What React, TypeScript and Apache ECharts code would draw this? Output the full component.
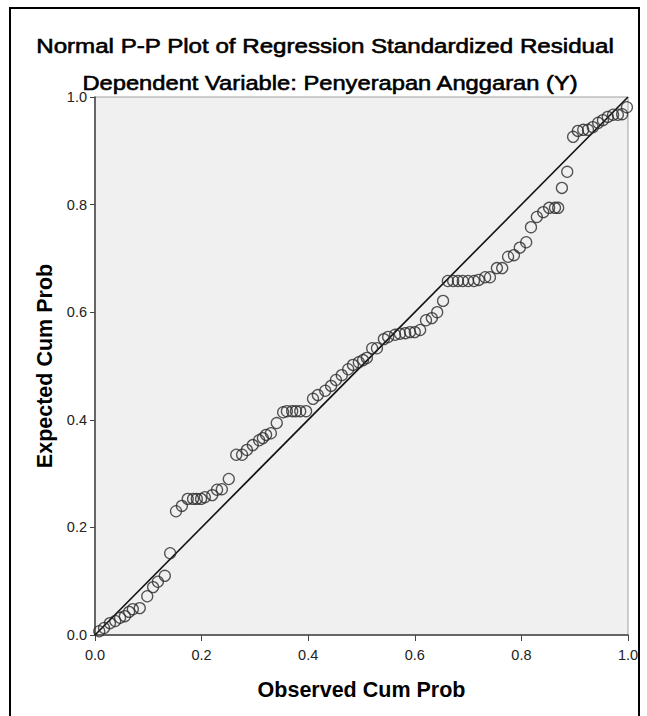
import React, { useEffect, useRef } from "react";
import * as echarts from "echarts";

const titleMain = "Normal P-P Plot of Regression Standardized Residual";
const titleSub = "Dependent Variable: Penyerapan Anggaran (Y)";
const xAxisName = "Observed Cum Prob";
const yAxisName = "Expected Cum Prob";

const observed = [
  0.008, 0.017, 0.028, 0.038, 0.047, 0.056, 0.064, 0.071, 0.084, 0.098,
  0.109, 0.118, 0.131, 0.141, 0.152, 0.163, 0.174, 0.184, 0.191, 0.199,
  0.206, 0.22, 0.229, 0.238, 0.251, 0.265, 0.276, 0.285, 0.296, 0.308,
  0.315, 0.321, 0.33, 0.341, 0.353, 0.36, 0.37, 0.377, 0.385, 0.396,
  0.409, 0.418, 0.432, 0.443, 0.452, 0.463, 0.475, 0.484, 0.495, 0.503,
  0.51, 0.52, 0.529, 0.542, 0.55, 0.563, 0.572, 0.582, 0.591, 0.6,
  0.61, 0.621, 0.632, 0.642, 0.653, 0.662, 0.672, 0.681, 0.69, 0.7,
  0.711, 0.72, 0.732, 0.741, 0.754, 0.764, 0.775, 0.786, 0.797, 0.809,
  0.818, 0.829, 0.841, 0.852, 0.863, 0.869, 0.876, 0.886, 0.897, 0.906,
  0.916, 0.925, 0.934, 0.944, 0.953, 0.962, 0.972, 0.981, 0.989, 0.998,
];

const expected = [
  0.007, 0.013, 0.022, 0.026, 0.032, 0.035, 0.043, 0.048, 0.05, 0.072,
  0.089, 0.099, 0.11, 0.152, 0.23, 0.24, 0.253, 0.253, 0.253, 0.253,
  0.256, 0.26, 0.27, 0.271, 0.29, 0.335, 0.335, 0.344, 0.353, 0.362,
  0.366, 0.372, 0.375, 0.394, 0.414, 0.416, 0.416, 0.416, 0.416, 0.416,
  0.439, 0.446, 0.454, 0.463, 0.474, 0.483, 0.494, 0.502, 0.507, 0.511,
  0.515, 0.533, 0.533, 0.55, 0.554, 0.558, 0.56, 0.561, 0.563, 0.563,
  0.567, 0.585, 0.589, 0.6, 0.621, 0.658, 0.658, 0.658, 0.658, 0.658,
  0.658, 0.66, 0.665, 0.665, 0.682, 0.682, 0.703, 0.706, 0.72, 0.73,
  0.758, 0.777, 0.786, 0.794, 0.794, 0.794, 0.831, 0.861, 0.926, 0.937,
  0.939, 0.939, 0.944, 0.952, 0.957, 0.963, 0.967, 0.967, 0.968, 0.981,
];

const refLine = [
  [0, 0],
  [1, 1],
];

export default function App() {
  const ref = useRef<HTMLDivElement>(null);
  useEffect(() => {
    document.body.style.margin = "0";
    if (!ref.current) return;
    const chart = echarts.init(ref.current, null, { renderer: "svg" });
    const font = "'Liberation Sans', Arial, sans-serif";
    const points = observed.map((o, i) => [o, expected[i]]);
    chart.setOption({
      animation: false,
      backgroundColor: "#ffffff",
      graphic: [
        {
          type: "rect",
          shape: { x: 10, y: 8, width: 629, height: 740 },
          style: { fill: "none", stroke: "#000", lineWidth: 2 },
          silent: true,
        },
        {
          type: "text",
          x: 325,
          y: 46,
          scaleX: 1.15,
          style: {
            text: titleMain,
            align: "center",
            verticalAlign: "middle",
            fontFamily: font,
            fontSize: 21,
            fill: "#000",
            stroke: "#000",
            lineWidth: 0.6,
          },
          silent: true,
        },
        {
          type: "text",
          x: 330,
          y: 83,
          scaleX: 1.13,
          style: {
            text: titleSub,
            align: "center",
            verticalAlign: "middle",
            fontFamily: font,
            fontSize: 21,
            fill: "#000",
            stroke: "#000",
            lineWidth: 0.6,
          },
          silent: true,
        },
      ],
      grid: {
        left: 95,
        top: 97,
        width: 533,
        height: 538,
        show: true,
        backgroundColor: "#f0f0f0",
        borderColor: "#a0a0a0",
        borderWidth: 1,
      },
      xAxis: {
        type: "value",
        min: 0,
        max: 1,
        interval: 0.2,
        name: xAxisName,
        nameLocation: "middle",
        nameGap: 44,
        nameTextStyle: { fontFamily: font, fontSize: 21.5, fontWeight: "bold", color: "#000" },
        axisLine: { show: true, onZero: false, lineStyle: { color: "#444", width: 1.5 } },
        axisTick: { show: true, length: 6, lineStyle: { color: "#444" } },
        axisLabel: {
          fontFamily: font,
          fontSize: 14.5,
          color: "#222",
          margin: 12,
          formatter: (v: number) => v.toFixed(1),
        },
        splitLine: { show: false },
      },
      yAxis: {
        type: "value",
        min: 0,
        max: 1,
        interval: 0.2,
        name: yAxisName,
        nameLocation: "middle",
        nameGap: 39,
        nameTextStyle: { fontFamily: font, fontSize: 21.5, fontWeight: "bold", color: "#000" },
        axisLine: { show: true, onZero: false, lineStyle: { color: "#444", width: 1.5 } },
        axisTick: { show: true, length: 5, lineStyle: { color: "#444" } },
        axisLabel: {
          fontFamily: font,
          fontSize: 14.5,
          color: "#222",
          margin: 8,
          formatter: (v: number) => v.toFixed(1),
        },
        splitLine: { show: false },
      },
      series: [
        {
          type: "line",
          data: refLine,
          symbol: "none",
          lineStyle: { color: "#111", width: 1.6 },
          silent: true,
          z: 2,
        },
        {
          type: "scatter",
          data: points,
          symbol: "circle",
          symbolSize: 11,
          itemStyle: { color: "transparent", borderColor: "#2a2a2a", borderWidth: 1.3 },
          z: 3,
        },
      ],
    });
    return () => chart.dispose();
  }, []);
  return <div ref={ref} style={{ width: 647, height: 716 }} />;
}
